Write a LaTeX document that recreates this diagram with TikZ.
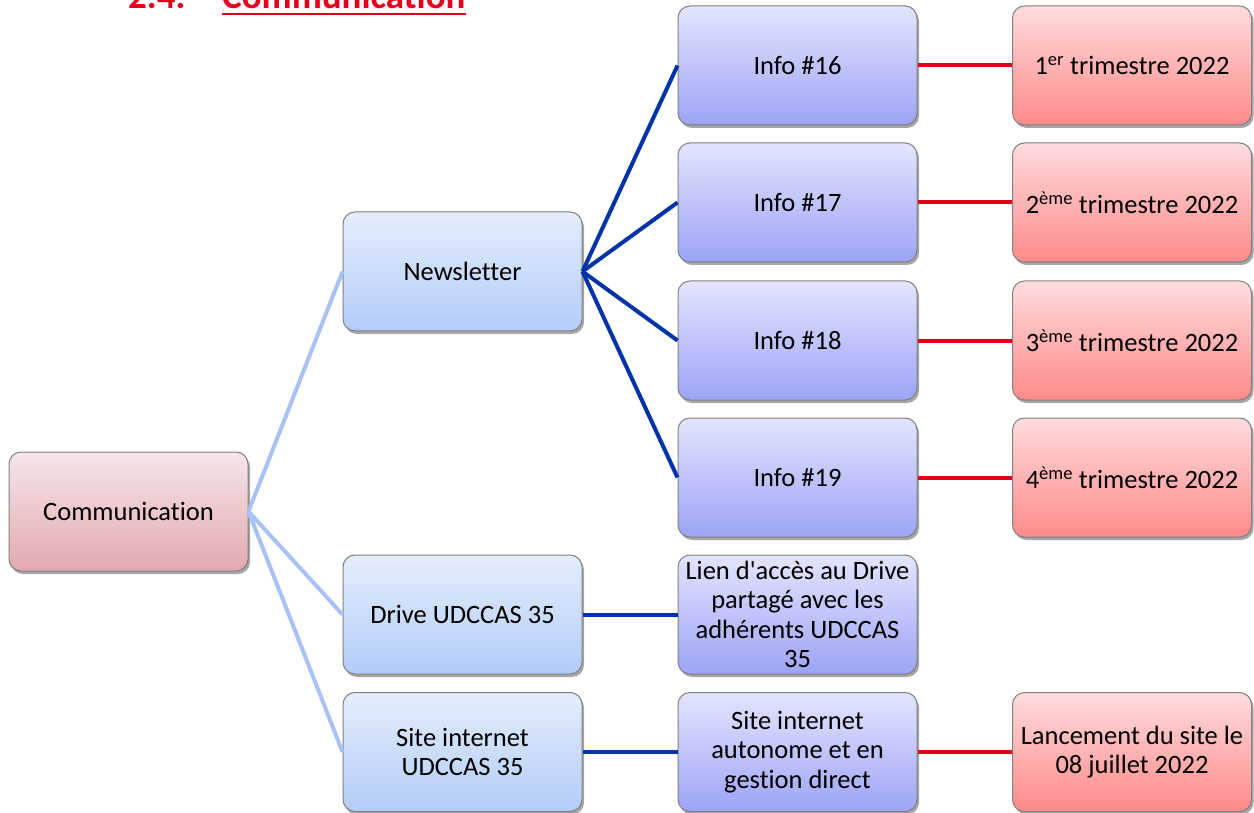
\documentclass[tikz,border=0pt]{standalone}
\usepackage{fontspec}
\setmainfont{Carlito}[Ligatures={TeXOff,CommonOff}]
\usetikzlibrary{shadows}
\definecolor{commtop}{HTML}{F6E6E9}
\definecolor{commbot}{HTML}{E2A9AE}
\definecolor{lbtop}{HTML}{E4EEFD}
\definecolor{lbbot}{HTML}{B2CCF8}
\definecolor{pertop}{HTML}{E3E5FE}
\definecolor{perbot}{HTML}{9CA4F6}
\definecolor{redtop}{HTML}{FFDCDC}
\definecolor{redbot}{HTML}{FF8A8A}
\definecolor{boxline}{HTML}{808080}
\definecolor{lightlink}{HTML}{A8C2F6}
\definecolor{darklink}{HTML}{0033A6}
\definecolor{redlink}{HTML}{E0001A}
\definecolor{titlered}{HTML}{E3001B}
\begin{document}
\begin{tikzpicture}[x=1pt,y=-1pt,
  box/.style={draw=boxline, line width=1pt, rounded corners=12pt,
    minimum width=239pt, minimum height=119pt, inner sep=0pt,
    align=center, font=\fontsize{26.5}{29.5}\selectfont,
    drop shadow={shadow xshift=2pt, shadow yshift=-3pt, opacity=0.35, fill=black}},
  commbox/.style={box, top color=commtop, bottom color=commbot},
  lbbox/.style={box, top color=lbtop, bottom color=lbbot},
  perbox/.style={box, top color=pertop, bottom color=perbot},
  redbox/.style={box, top color=redtop, bottom color=redbot},
  llink/.style={draw=lightlink, line width=4pt},
  dlink/.style={draw=darklink, line width=4pt},
  rlink/.style={draw=redlink, line width=4pt},
  titlefont/.style={font=\fontsize{37}{40}\selectfont\bfseries, text=titlered, inner sep=0pt, anchor=base west}
]
\clip (0,0) rectangle (1254,813);
\fill[white] (0,0) rectangle (1254,813);

% title
\node[titlefont] (tnum) at (128,9) {2.4.};
\node[titlefont] (ttxt) at (222,9) {Communication};
\draw[titlered, line width=2.2pt] ([yshift=-5pt]ttxt.base west) -- ([yshift=-5pt]ttxt.base east);

% nodes
\node[commbox] (comm) at (128.5,511.5) {Communication};
\node[lbbox] (news) at (462.5,271.5) {Newsletter};
\node[lbbox] (drive) at (462.5,614.5) {Drive UDCCAS 35};
\node[lbbox] (site) at (462.5,752) {Site internet\\UDCCAS 35};

\node[perbox] (i16) at (797.5,65.5) {Info \#16};
\node[perbox] (i17) at (797.5,202.5) {Info \#17};
\node[perbox] (i18) at (797.5,340.5) {Info \#18};
\node[perbox] (i19) at (797.5,477.5) {Info \#19};
\node[perbox] (lien) at (797.5,614.5) {Lien d'accès au Drive\\partagé avec les\\adhérents UDCCAS\\35};
\node[perbox] (auto) at (797.5,752) {Site internet\\autonome et en\\gestion direct};

\node[redbox] (t1) at (1132,65.5) {1\textsuperscript{er} trimestre 2022};
\node[redbox] (t2) at (1132,202.5) {2\textsuperscript{ème} trimestre 2022};
\node[redbox] (t3) at (1132,340.5) {3\textsuperscript{ème} trimestre 2022};
\node[redbox] (t4) at (1132,477.5) {4\textsuperscript{ème} trimestre 2022};
\node[redbox] (lanc) at (1132,752) {Lancement du site le\\08 juillet 2022};

% connectors
\path[llink] (comm.east) -- (news.west);
\path[llink] (comm.east) -- (drive.west);
\path[llink] (comm.east) -- (site.west);

\path[dlink] (news.east) -- (i16.west);
\path[dlink] (news.east) -- (i17.west);
\path[dlink] (news.east) -- (i18.west);
\path[dlink] (news.east) -- (i19.west);
\path[dlink] (drive.east) -- (lien.west);
\path[dlink] (site.east) -- (auto.west);

\path[rlink] (i16.east) -- (t1.west);
\path[rlink] (i17.east) -- (t2.west);
\path[rlink] (i18.east) -- (t3.west);
\path[rlink] (i19.east) -- (t4.west);
\path[rlink] (auto.east) -- (lanc.west);
\end{tikzpicture}
\end{document}
